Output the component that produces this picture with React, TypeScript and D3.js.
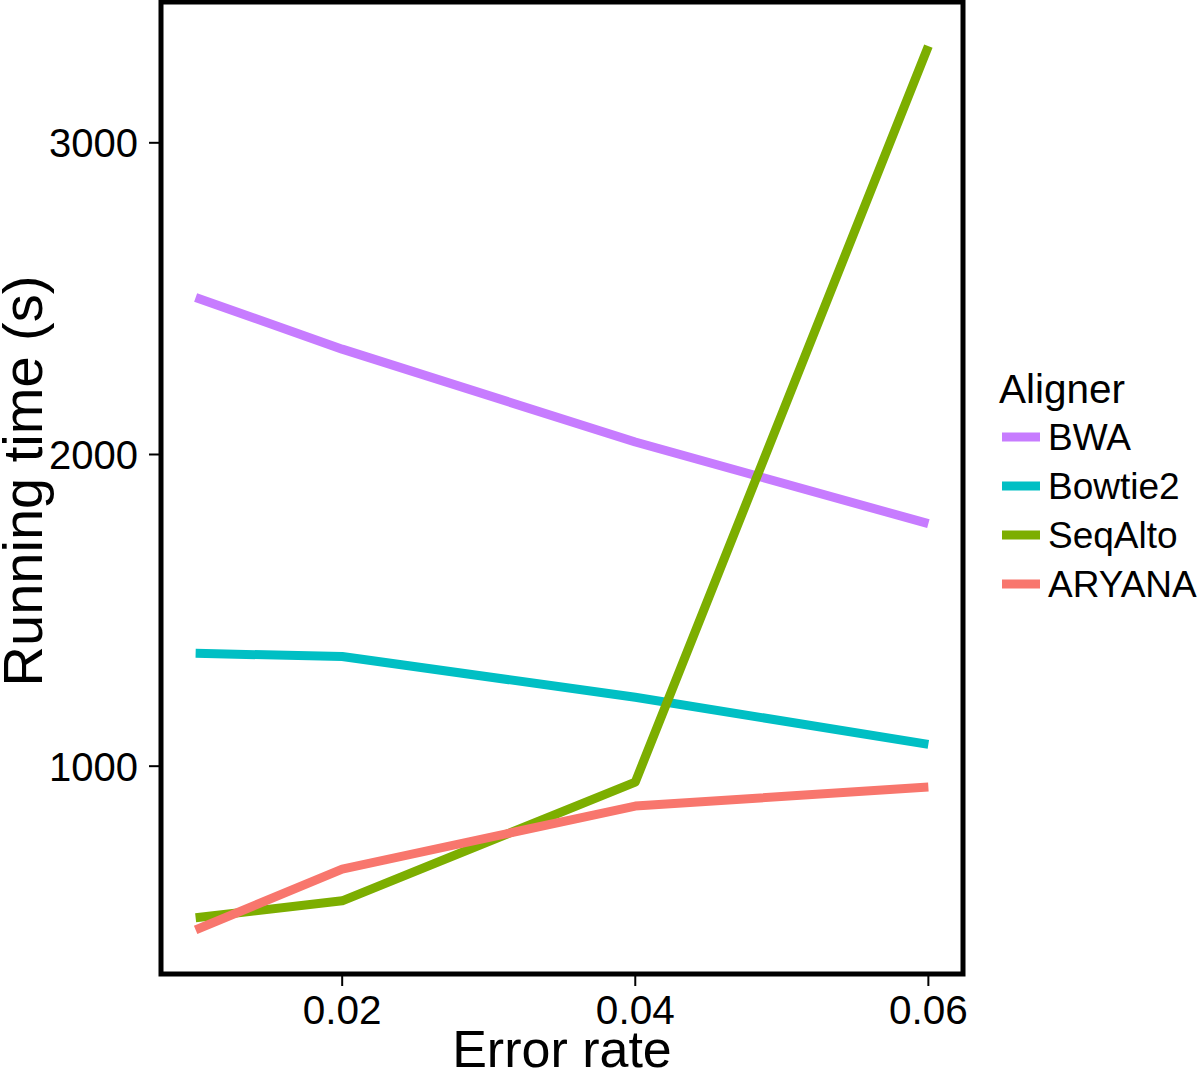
import React from "react";
import * as d3 from "d3";

const W = 1200;
const H = 1071;
const Margin = { top: 2, right: 237, bottom: 97, left: 161 };

const errorRates = [0.01, 0.02, 0.04, 0.06];
const aligners = ["BWA", "Bowtie2", "SeqAlto", "ARYANA"];
const colors = ["#C77CFF", "#00BFC4", "#7CAE00", "#F8766D"];
const bwaTimes = [2504, 2338, 2040, 1778];
const bowtie2Times = [1362, 1352, 1221, 1070];
const seqAltoTimes = [514, 568, 949, 3310];
const aryanaTimes = [475, 670, 872, 933];
const xTicks = [0.02, 0.04, 0.06];
const yTicks = [1000, 2000, 3000];

const seriesValues = [bwaTimes, bowtie2Times, seqAltoTimes, aryanaTimes];
const FONT = "'Liberation Sans', Arial, Helvetica, sans-serif";

const App = () => {
  const plotW = W - Margin.left - Margin.right;
  const plotH = H - Margin.top - Margin.bottom;

  // ggplot style 5% expansion
  const xExt = d3.extent(errorRates) as [number, number];
  const xPad = (xExt[1] - xExt[0]) * 0.05;
  const xScale = d3
    .scaleLinear()
    .domain([xExt[0] - xPad, xExt[1] + xPad])
    .range([Margin.left - 2, Margin.left + plotW + 2]);

  const allY = seriesValues.flat();
  const yMin = d3.min(allY) as number;
  const yMax = d3.max(allY) as number;
  const yPad = (yMax - yMin) * 0.05;
  const yScale = d3
    .scaleLinear()
    .domain([yMin - yPad, yMax + yPad])
    .range([Margin.top + plotH, Margin.top]);

  const line = d3
    .line<number>()
    .x((_, i) => xScale(errorRates[i]))
    .y((d) => yScale(d));

  const bottom = Margin.top + plotH;
  const legendX = 1002;
  const legendY0 = 437;
  const legendStep = 49;

  return (
    <svg width={W} height={H} style={{ position: "absolute", left: 0, top: 0 }}>
      <rect x={0} y={0} width={W} height={H} fill="#fff" />
      {seriesValues.map((vals, i) => (
        <path
          key={aligners[i]}
          d={line(vals) || ""}
          fill="none"
          stroke={colors[i]}
          strokeWidth={9}
          strokeLinejoin="round"
        />
      ))}
      <rect
        x={Margin.left}
        y={Margin.top}
        width={plotW}
        height={plotH}
        fill="none"
        stroke="#000"
        strokeWidth={5}
      />
      {yTicks.map((t) => (
        <g key={t} transform={`translate(0, ${yScale(t)})`}>
          <line x1={Margin.left - 12} x2={Margin.left} y1={0} y2={0} stroke="#000" strokeWidth={2} />
          <text
            x={Margin.left - 23}
            y={0}
            dy="0.36em"
            textAnchor="end"
            style={{ fontSize: 40, fontFamily: FONT }}
          >
            {t}
          </text>
        </g>
      ))}
      {xTicks.map((t) => (
        <g key={t} transform={`translate(${xScale(t)}, 0)`}>
          <line x1={0} x2={0} y1={bottom} y2={bottom + 12} stroke="#000" strokeWidth={2} />
          <text
            x={0}
            y={bottom + 50}
            textAnchor="middle"
            style={{ fontSize: 40.5, fontFamily: FONT }}
          >
            {t.toFixed(2)}
          </text>
        </g>
      ))}
      <text
        x={(Margin.left + Margin.left + plotW) / 2}
        y={1067}
        textAnchor="middle"
        style={{ fontSize: 52, fontFamily: FONT }}
      >
        Error rate
      </text>
      <text
        transform={`translate(42, 481) rotate(-90)`}
        textAnchor="middle"
        style={{ fontSize: 56, fontFamily: FONT }}
      >
        Running time (s)
      </text>
      <text x={999} y={403} style={{ fontSize: 40.5, fontFamily: FONT }}>
        Aligner
      </text>
      {aligners.map((a, i) => (
        <g key={a} transform={`translate(${legendX}, ${legendY0 + i * legendStep})`}>
          <line x1={0} x2={38} y1={0} y2={0} stroke={colors[i]} strokeWidth={9} />
          <text x={46} y={0} dy="0.36em" style={{ fontSize: 37, fontFamily: FONT }}>
            {a}
          </text>
        </g>
      ))}
    </svg>
  );
};

export default App;
